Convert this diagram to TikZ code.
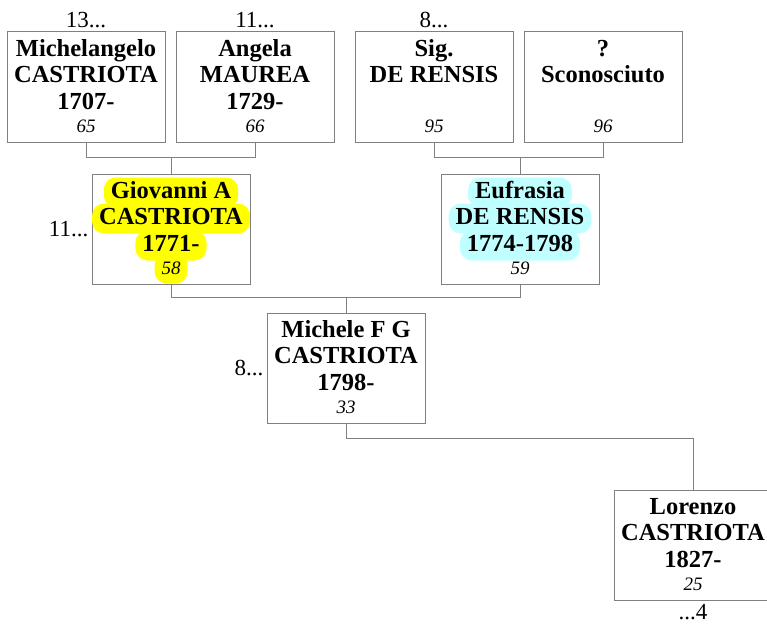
\documentclass[tikz,border=0pt]{standalone}
\usepackage{fontspec}
\setmainfont{Liberation Serif}
\usepackage{xcolor}
\usetikzlibrary{positioning,calc}

\definecolor{linegray}{RGB}{128,128,128}
\definecolor{hlyellow}{RGB}{255,255,0}
\definecolor{hlcyan}{RGB}{192,255,255}

\tikzset{
  person/.style={draw=linegray, line width=1pt, minimum width=158pt, minimum height=110pt, inner sep=0pt},
  nameline/.style={font=\fontsize{24.5}{26}\selectfont\bfseries, anchor=base},
  numline/.style={font=\fontsize{19}{22}\selectfont\itshape, anchor=base},
  hl/.style={fill=#1, rounded corners=12pt, inner xsep=7pt, inner ysep=3pt, text height=18pt, text depth=6pt},
  gen/.style={font=\fontsize{23}{26}\selectfont, inner sep=1pt},
  link/.style={draw=linegray, line width=0.9pt},
}

\begin{document}
\begin{tikzpicture}[x=1pt, y=-1pt]
  \useasboundingbox (0,0) rectangle (767,626);
  % boxes
  \node[person] (mic) at (86,87)  {};
  \node[person] (ang) at (255,87) {};
  \node[person] (sig) at (434,87) {};
  \node[person] (sco) at (603,87) {};
  \node[person] (gio) at (171,229) {};
  \node[person] (euf) at (520,229) {};
  \node[person] (mif) at (346,368) {};
  \node[person] (lor) at (693,545) {};
  % texts in the boxes
  \foreach \p/\hc/\hn/\la/\lb/\lc/\n in {
      mic/none/none/Michelangelo/CASTRIOTA/1707-/65,
      ang/none/none/Angela/MAUREA/1729-/66,
      sig/none/none/Sig./DE RENSIS//95,
      sco/none/none/?/Sconosciuto//96,
      gio/hlyellow/hlyellow/Giovanni A/CASTRIOTA/1771-/58,
      euf/hlcyan/none/Eufrasia/DE RENSIS/1774-1798/59,
      mif/none/none/Michele F G/CASTRIOTA/1798-/33,
      lor/none/none/Lorenzo/CASTRIOTA/1827-/25}
  {
    \node[nameline, hl=\hc] (\p-1) at ($(\p.north)+(0,25)$) {\la};
    \node[nameline, hl=\hc] (\p-2) at ($(\p.north)+(0,51)$) {\lb};
    \node[nameline, hl=\hc] (\p-3) at ($(\p.north)+(0,78)$) {\lc};
    \node[numline, hl=\hn]  (\p-n) at ($(\p.north)+(0,101)$) {\n};
  }
  % generation marks
  \node[gen, above=2pt of mic] (mic-g) {13...};
  \node[gen, above=2pt of ang] (ang-g) {11...};
  \node[gen, above=2pt of sig] (sig-g) {8...};
  \node[gen, left=2pt of gio]  (gio-g) {11...};
  \node[gen, left=2pt of mif]  (mif-g) {8...};
  \node[gen, below=3pt of lor] (lor-g) {...4};
  % links
  \draw[link] (mic.south) -- ++(0,15) coordinate (j1) -| (ang.south);
  \draw[link] (gio.north) -- (gio.north |- j1);
  \draw[link] (sig.south) -- ++(0,15) coordinate (j2) -| (sco.south);
  \draw[link] (euf.north) -- (euf.north |- j2);
  \draw[link] (gio.south) -- ++(0,13) coordinate (j3) -| (euf.south);
  \draw[link] (mif.north) -- (mif.north |- j3);
  \draw[link] (mif.south) -- ++(0,15) -| (lor.north);
\end{tikzpicture}
\end{document}
